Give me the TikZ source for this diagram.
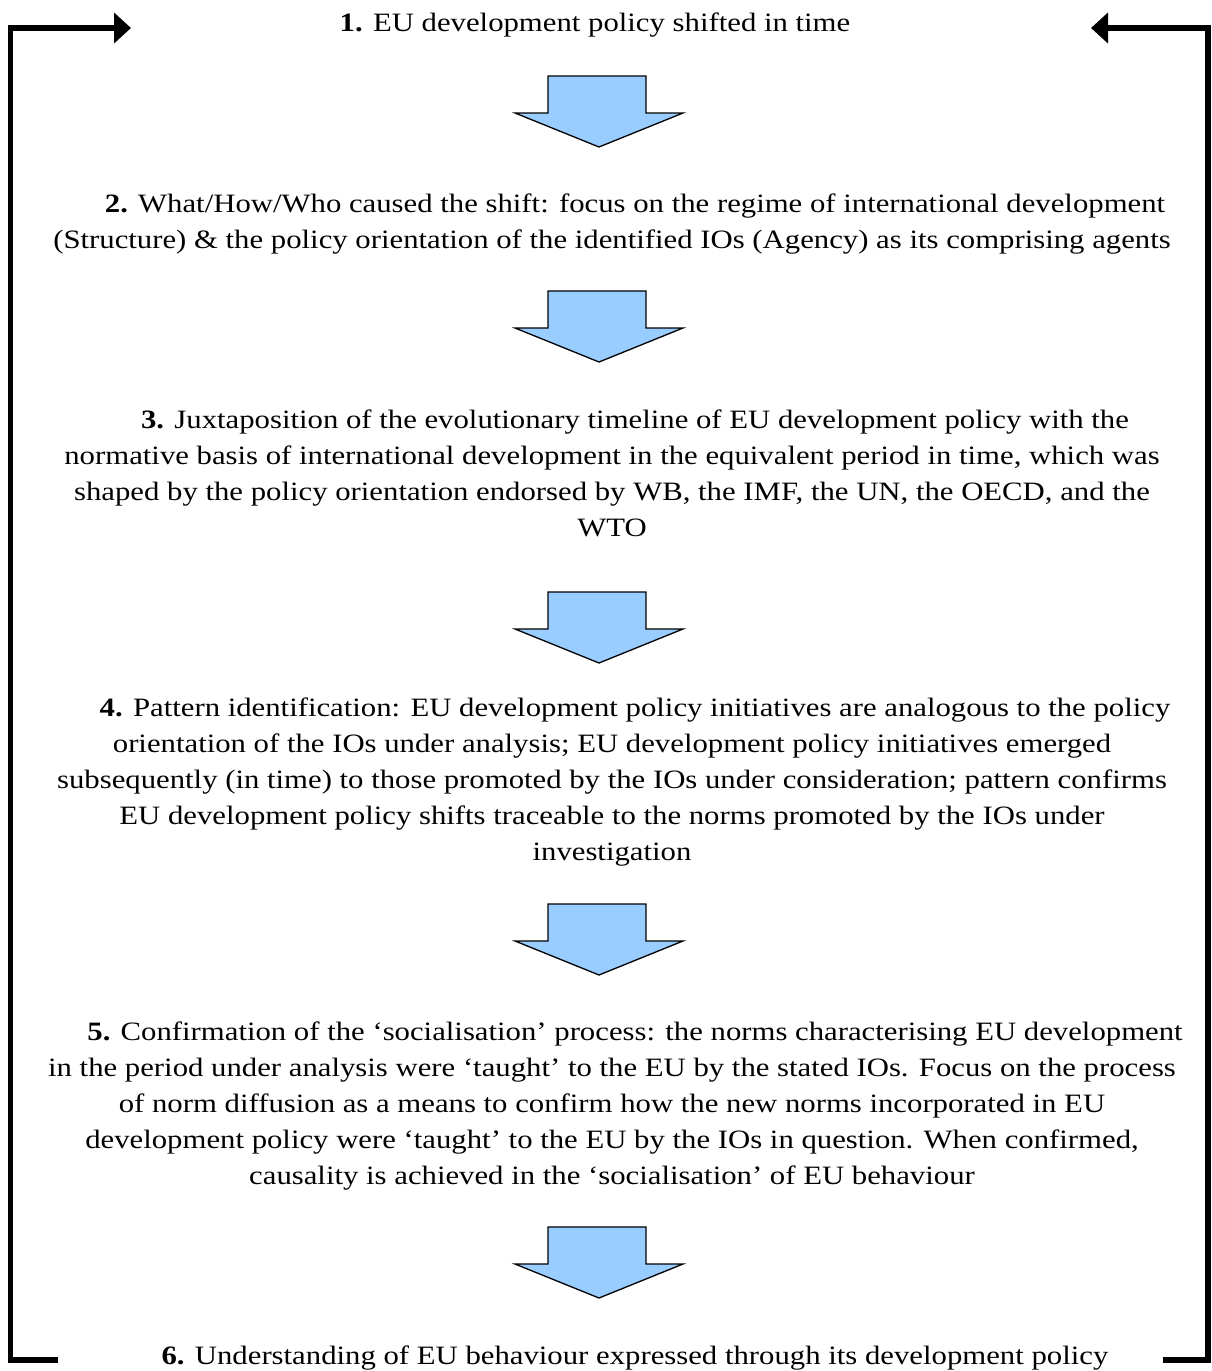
\documentclass[tikz,border=0pt]{standalone}
\usepackage{fontspec}
\setmainfont[FakeStretch=1.16]{Liberation Serif}
\usetikzlibrary{arrows.meta}
\definecolor{arrowblue}{RGB}{153,204,255}
\tikzset{
  x=1pt, y=-1pt,
  itemtext/.style={align=center, anchor=base, inner sep=0pt,
    font=\fontsize{26.5}{36}\selectfont},
  bracket/.style={line width=5.5pt, line join=miter, black},
  bracketarrow/.style={bracket, -{Triangle[length=17pt,width=30pt]}},
  blockarrow/.style={draw=black, line width=1.3pt, fill=arrowblue, line join=miter},
}
\newcommand{\downblock}[1]{%
  \path[blockarrow] ([shift={(-51,0)}]#1) -- ++(98,0) -- ++(0,37) -- ++(37,0)
    -- ++(-84,34) -- ++(-84,-34) -- ++(33,0) -- cycle;}
\begin{document}
\begin{tikzpicture}
\useasboundingbox (0,0) rectangle (1211,1371);

% text items (anchor = baseline of the last line)
\node[itemtext] (s1) at (595,31) {\textbf{1.} EU development policy shifted in time};
\node[itemtext] (s2) at (612,248) {\hspace*{46pt}\textbf{2.} What/How/Who caused the shift: focus on the regime of international development\\
(Structure) \& the policy orientation of the identified IOs (Agency) as its comprising agents};
\node[itemtext] (s3) at (612,536) {\hspace*{46pt}\textbf{3.} Juxtaposition of the evolutionary timeline of EU development policy with the\\
normative basis of international development in the equivalent period in time, which was\\
shaped by the policy orientation endorsed by WB, the IMF, the UN, the OECD, and the\\
WTO};
\node[itemtext] (s4) at (612,860) {\hspace*{46pt}\textbf{4.} Pattern identification: EU development policy initiatives are analogous to the policy\\
orientation of the IOs under analysis; EU development policy initiatives emerged\\
subsequently (in time) to those promoted by the IOs under consideration; pattern confirms\\
EU development policy shifts traceable to the norms promoted by the IOs under\\
investigation};
\node[itemtext] (s5) at (612,1184) {\hspace*{46pt}\textbf{5.} Confirmation of the ‘socialisation’ process: the norms characterising EU development\\
in the period under analysis were ‘taught’ to the EU by the stated IOs. Focus on the process\\
of norm diffusion as a means to confirm how the new norms incorporated in EU\\
development policy were ‘taught’ to the EU by the IOs in question. When confirmed,\\
causality is achieved in the ‘socialisation’ of EU behaviour};
\node[itemtext] (s6) at (612,1364) {\hspace*{46pt}\textbf{6.} Understanding of EU behaviour expressed through its development policy};

% block arrows
\coordinate (a1) at (599,76);
\coordinate (a2) at (599,291);
\coordinate (a3) at (599,592);
\coordinate (a4) at (599,904);
\coordinate (a5) at (599,1227);
\downblock{a1}
\downblock{a2}
\downblock{a3}
\downblock{a4}
\downblock{a5}

% feedback brackets
\coordinate (lbot) at (58,1360);
\coordinate (lcornb) at (10.5,1360);
\coordinate (lcornt) at (10.5,28);
\coordinate (ltip) at (131,28);
\coordinate (rbot) at (1163,1360);
\coordinate (rcornb) at (1208,1360);
\coordinate (rcornt) at (1208,28);
\coordinate (rtip) at (1091,28);
\draw[bracketarrow] (lbot) -- (lcornb) -- (lcornt) -- (ltip);
\draw[bracketarrow] (rbot) -- (rcornb) -- (rcornt) -- (rtip);
\end{tikzpicture}
\end{document}
